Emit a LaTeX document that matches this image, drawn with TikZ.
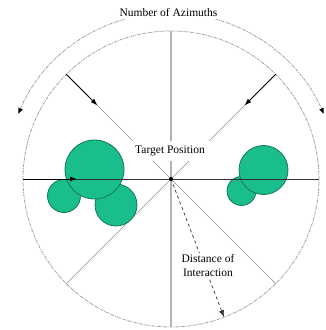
\documentclass[tikz,border=0pt]{standalone}
\usepackage{fontspec}
\setmainfont{Liberation Serif}
\usetikzlibrary{arrows.meta,calc}
\definecolor{blobfill}{RGB}{26,190,140}
\definecolor{blobline}{RGB}{22,120,88}
\begin{document}
\begin{tikzpicture}[x=1pt,y=1pt,
  blob/.style={circle, fill=blobfill, draw=blobline, line width=0.8pt, inner sep=0pt},
  ring/.style={draw=gray!75, line width=0.8pt, dash pattern=on 3pt off 1pt on 1pt off 1pt},
  spoke/.style={draw=gray!85, line width=0.7pt},
  axis/.style={draw=gray!60, line width=1.8pt},
  hline/.style={draw=black!80, line width=0.8pt},
  pointer/.style={-{Latex[length=7pt,width=5pt]}, line width=0.9pt, black},
  lab/.style={fill=white, inner sep=1.5pt, font=\fontsize{11.5}{14}\selectfont, align=center}]
\useasboundingbox (0,0) rectangle (325,330);
\coordinate (c) at (171,151);
% named points
\coordinate (N) at ($(c)+(90:148)$);
\coordinate (S) at ($(c)+(-90:148)$);
\coordinate (W) at ($(c)+(180:148)$);
\coordinate (E) at ($(c)+(0:148)$);
\coordinate (NE) at ($(c)+(45:148)$);
\coordinate (NW) at ($(c)+(135:148)$);
\coordinate (SW) at ($(c)+(225:148)$);
\coordinate (SE) at ($(c)+(315:148)$);
\coordinate (NEin) at ($(c)+(45:104)$);
\coordinate (NWin) at ($(c)+(135:104)$);
\coordinate (Win) at ($(c)+(180:94)$);
\coordinate (D) at ($(c)+(-69:148)$);
\coordinate (arcL) at ($(c)+(157:166)$);
% rings
\draw[ring] (c) circle[radius=148];
\draw[ring, {Latex[length=6pt,width=5pt,color=black]}-{Latex[length=6pt,width=5pt,color=black]}] (arcL) arc[start angle=157, end angle=23, radius=166];
% spokes
\draw[spoke] (NE) -- (SW);
\draw[spoke] (NW) -- (SE);
\draw[axis] (N) -- (S);
% green blobs
\node[blob, minimum size=33pt] (b1) at (64,134) {};
\node[blob, minimum size=42pt] (b2) at (116,125) {};
\node[blob, minimum size=59pt] (b3) at (94.5,160.5) {};
\node[blob, minimum size=29pt] (b4) at (241.5,139) {};
\node[blob, minimum size=49pt] (b5) at (263.5,160) {};
% horizontal line and pointers
\draw[hline] (W) -- (E);
\draw[pointer] (W) -- (Win);
\draw[pointer] (NW) -- (NWin);
\draw[pointer] (NE) -- (NEin);
\draw[black!80, line width=0.7pt, dashed, -{Latex[length=7pt,width=5pt]}] (c) -- (D);
\fill[black] (c) circle[radius=2pt];
% labels
\node[lab] (title) at (168.5,317) {Number of Azimuths};
\node[lab, inner xsep=5pt, inner ysep=5pt] (tp) at (170,179) {Target Position};
\node[lab] (dist) at (208,64) {Distance of\\Interaction};
\end{tikzpicture}
\end{document}
